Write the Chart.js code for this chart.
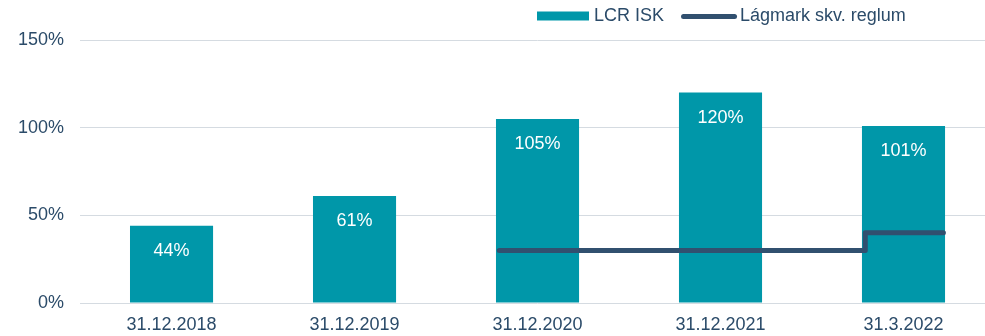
<!DOCTYPE html>
<html>
<head>
<meta charset="utf-8">
<script src="https://cdn.jsdelivr.net/npm/chart.js@4/dist/chart.umd.min.js"></script>
<style>
  html, body { margin: 0; padding: 0; background: #fff; overflow: hidden; }
  #wrap { position: relative; width: 995px; height: 336px; }
</style>
</head>
<body>
<div id="wrap"><canvas id="lcr"></canvas></div>
<script>
const periods = ["31.12.2018", "31.12.2019", "31.12.2020", "31.12.2021", "31.3.2022"];
const lcrIsk = [44, 61, 105, 120, 101];
const minRequirement = [null, null, 30, 30, 40];
const yTicks = [0, 50, 100, 150];

const TEAL = "#0097a9";
const NAVY = "#31506f";
const TEXT = "#2b4b69";
const FONT = "'Liberation Sans', Arial, sans-serif";
const BAR_PCT = 0.454;
const INSET = 0.018; // keep the rounded caps inside the bar edges

// the requirement runs from the left edge of the first bar it applies to,
// steps up at the left edge of each later bar, and ends at the right edge of the last
const half = BAR_PCT / 2;
const reqPoints = [];
minRequirement.forEach((v, i) => { if (v !== null) reqPoints.push({ x: i - half + INSET, y: v }); });
reqPoints.push({ x: minRequirement.length - 1 + half - INSET / 2, y: minRequirement[minRequirement.length - 1] });

const barLabels = {
  id: "barLabels",
  afterDatasetsDraw(chart) {
    const meta = chart.getDatasetMeta(0);
    const ctx = chart.ctx;
    ctx.save();
    ctx.fillStyle = "#ffffff";
    ctx.font = "18px " + FONT;
    ctx.textAlign = "center";
    ctx.textBaseline = "middle";
    meta.data.forEach((bar, i) => {
      ctx.fillText(lcrIsk[i] + "%", bar.x, bar.y + 25);
    });
    ctx.restore();
  }
};

// legend drawn by hand: wide swatch for the bars, short thick rounded stroke for the line
const topLegend = {
  id: "topLegend",
  afterDraw(chart) {
    const ctx = chart.ctx;
    const ds = chart.data.datasets;
    const cy = 16, swatch = 52, stroke = 56;
    let x = 537;
    ctx.save();
    ctx.font = "18px " + FONT;
    ctx.textBaseline = "middle";
    ctx.fillStyle = TEAL;
    ctx.fillRect(x, cy - 4.5, swatch, 9);
    x += swatch + 5;
    ctx.fillStyle = TEXT;
    ctx.fillText(ds[0].label, x, cy);
    x += ctx.measureText(ds[0].label).width + 17;
    ctx.strokeStyle = NAVY;
    ctx.lineWidth = 5;
    ctx.lineCap = "round";
    ctx.beginPath();
    ctx.moveTo(x + 2.5, cy + 0.5);
    ctx.lineTo(x + stroke - 2.5, cy + 0.5);
    ctx.stroke();
    x += stroke + 3;
    ctx.fillText(ds[1].label, x, cy);
    ctx.restore();
  }
};

new Chart(document.getElementById("lcr"), {
  type: "bar",
  data: {
    labels: periods,
    datasets: [
      {
        label: "LCR ISK",
        data: lcrIsk,
        backgroundColor: TEAL,
        borderWidth: 0,
        barPercentage: BAR_PCT,
        categoryPercentage: 1,
        grouped: false,
        order: 2
      },
      {
        type: "line",
        label: "Lágmark skv. reglum",
        data: reqPoints,
        xAxisID: "x2",
        borderColor: NAVY,
        backgroundColor: NAVY,
        borderWidth: 5,
        borderCapStyle: "round",
        borderJoinStyle: "round",
        stepped: "before",
        pointRadius: 0,
        fill: false,
        order: 1
      }
    ]
  },
  options: {
    responsive: true,
    maintainAspectRatio: false,
    animation: false,
    layout: { padding: { left: 2, right: 0, top: 40, bottom: 0 } },
    plugins: {
      tooltip: { enabled: false },
      legend: { display: false }
    },
    scales: {
      x: {
        grid: { display: false, drawTicks: false, tickLength: 0 },
        border: { display: false },
        ticks: { color: TEXT, font: { family: FONT, size: 18 }, padding: 11 },
        afterFit(axis) { axis.height = 33; }
      },
      x2: {
        type: "linear",
        display: false,
        offset: false,
        min: -0.5,
        max: periods.length - 0.5
      },
      y: {
        min: yTicks[0],
        max: yTicks[yTicks.length - 1],
        afterBuildTicks(axis) { axis.ticks = yTicks.map(v => ({ value: v })); },
        grid: { color: "#d5dbe1", lineWidth: 1, drawTicks: false },
        border: { display: false },
        ticks: {
          color: TEXT,
          font: { family: FONT, size: 18 },
          padding: 16,
          callback: v => v + "%"
        }
      }
    }
  },
  plugins: [barLabels, topLegend]
});
</script>
</body>
</html>
